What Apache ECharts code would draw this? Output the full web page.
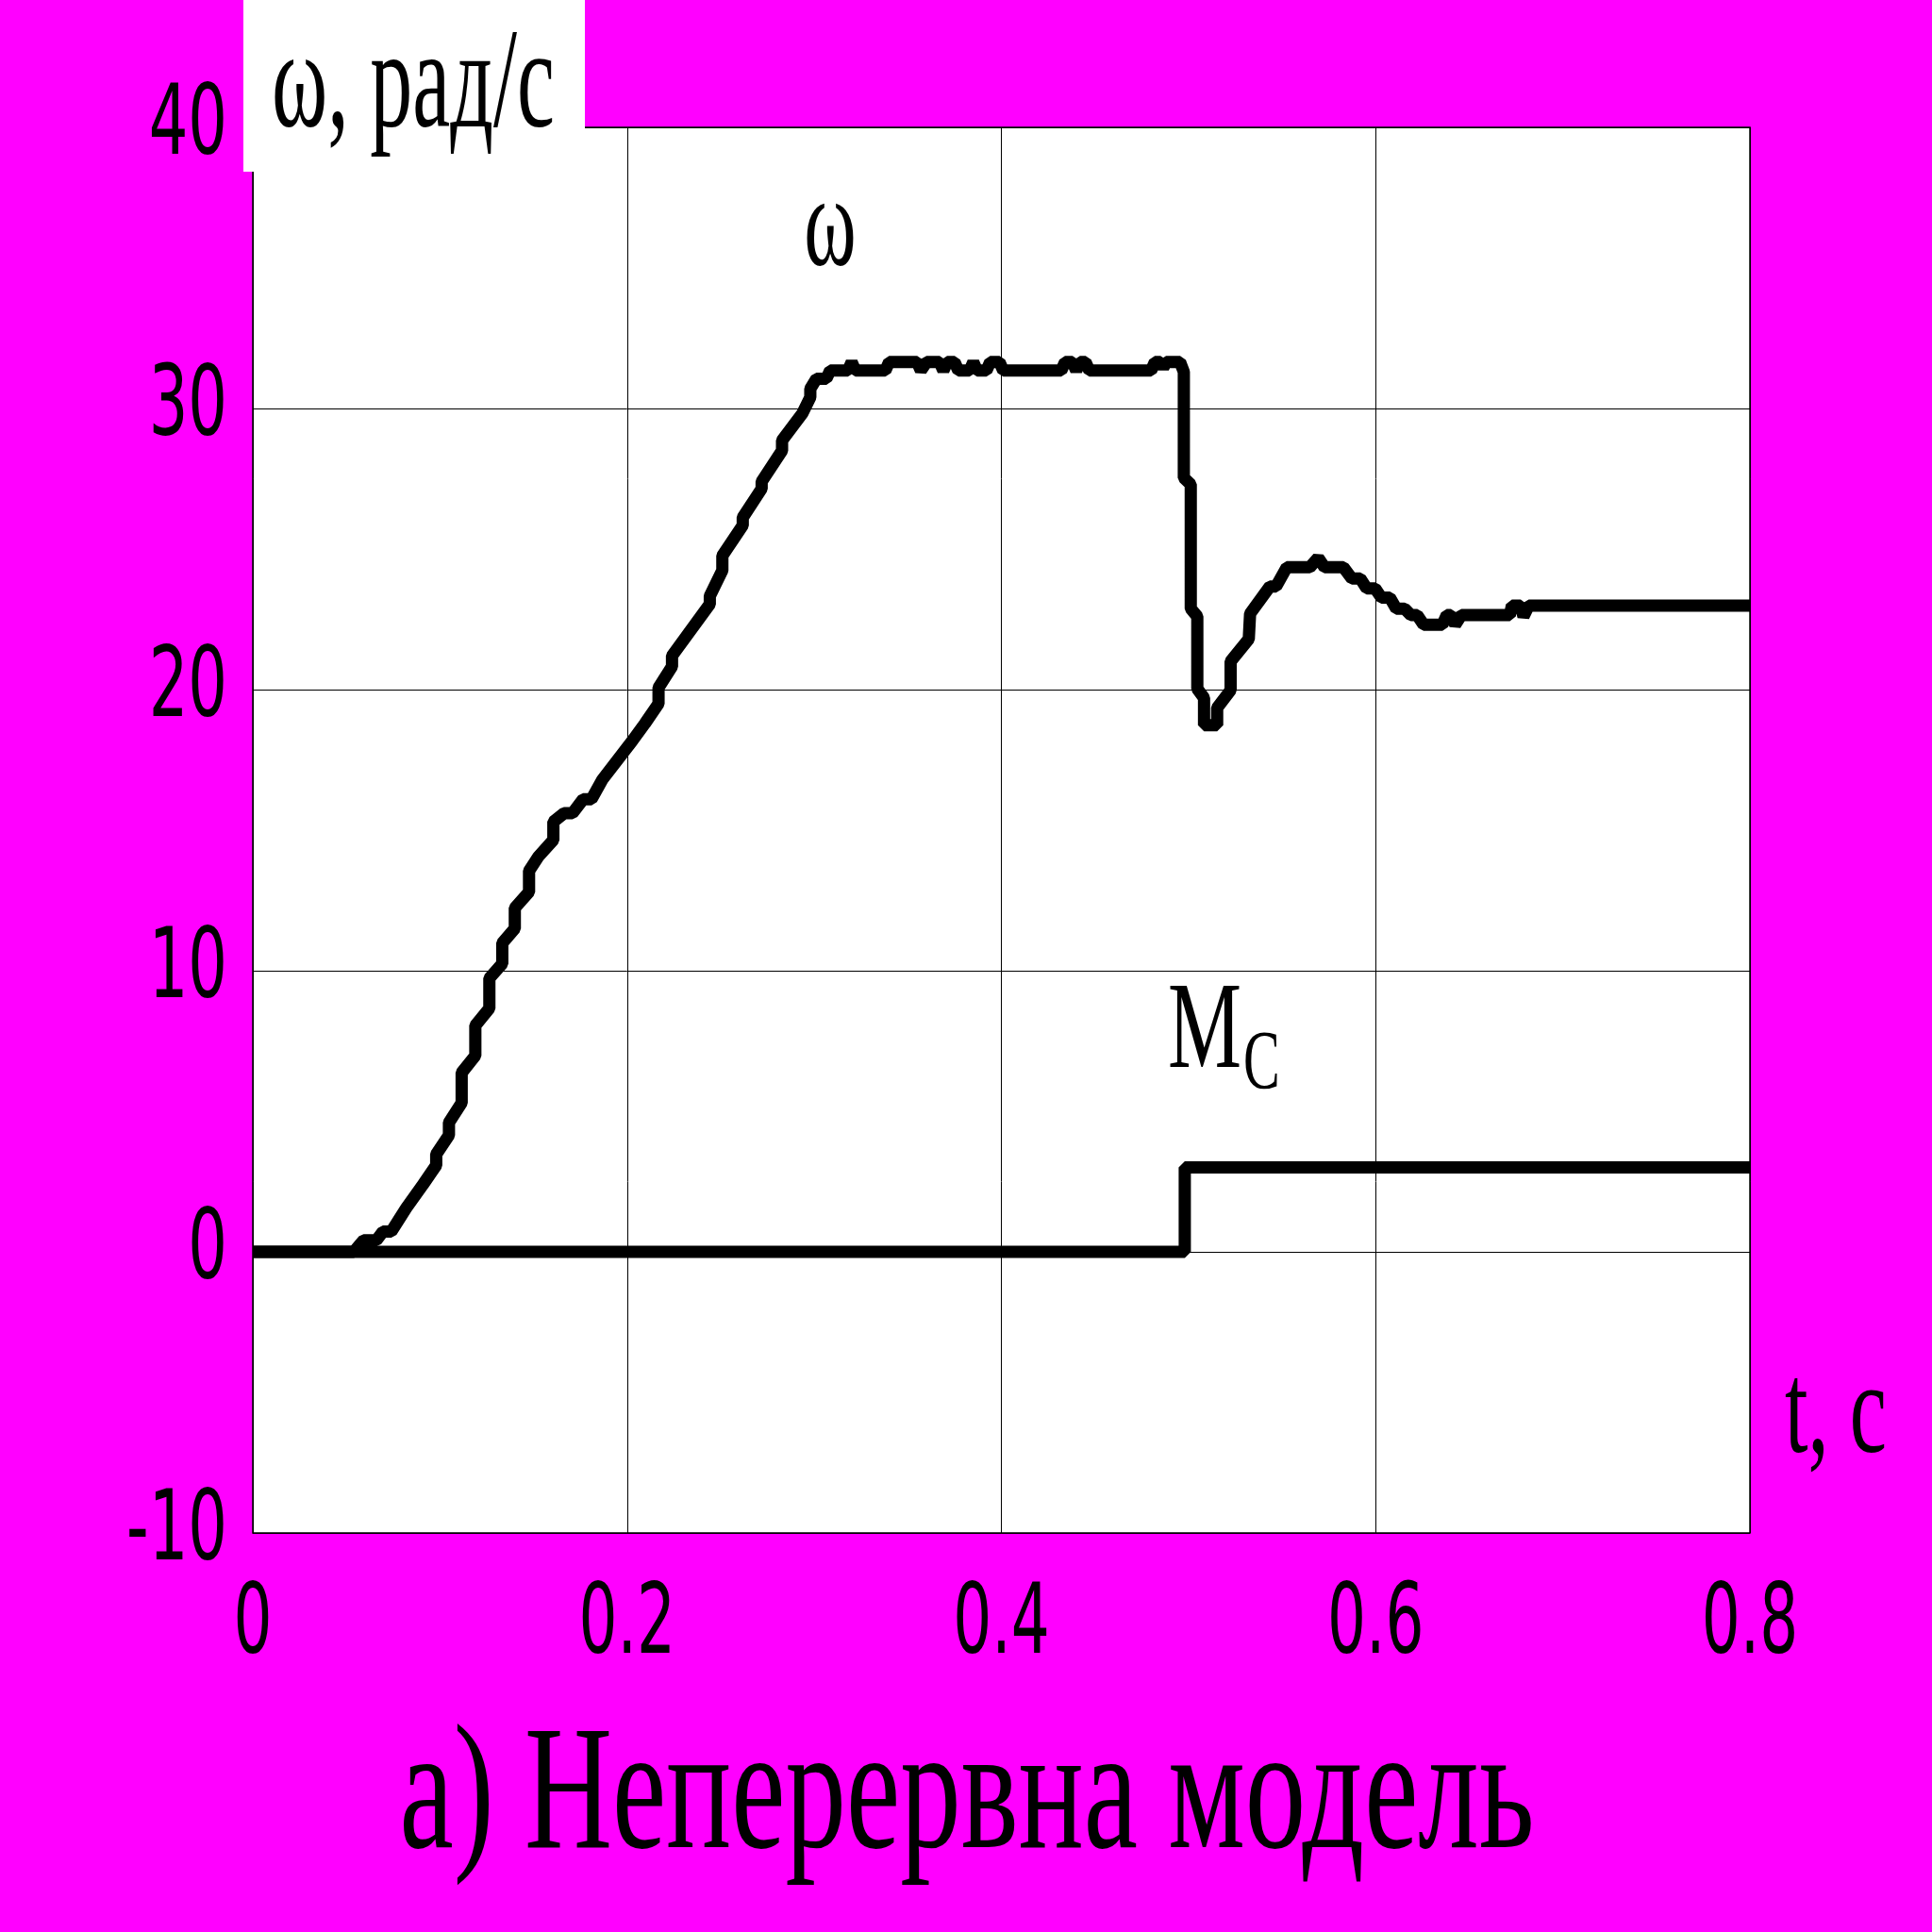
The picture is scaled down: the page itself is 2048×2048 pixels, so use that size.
<!DOCTYPE html>
<html>
<head>
<meta charset="utf-8">
<script src="https://cdn.jsdelivr.net/npm/echarts@6/dist/echarts.min.js"></script>
<style>
html,body{margin:0;padding:0;background:#ff00ff;}
#c{width:2048px;height:2048px;}
</style>
</head>
<body>
<div id="c"></div>
<script>
// ---- data ----
const xTicks = [0, 0.2, 0.4, 0.6, 0.8];
const yTicks = [-10, 0, 10, 20, 30, 40];

// omega(t): acceleration part
const omegaRise = [
  [0, 0], [0.054, 0], [0.0592, 0.41], [0.066, 0.41], [0.0695, 0.72], [0.074, 0.72],
  [0.082, 1.56], [0.091, 2.4], [0.098, 3.08], [0.098, 3.47], [0.1048, 4.15], [0.1048, 4.6],
  [0.1116, 5.3], [0.1116, 6.37], [0.1189, 6.98], [0.1189, 8.05], [0.1264, 8.66], [0.1264, 9.73],
  [0.1333, 10.25], [0.1333, 10.98], [0.140, 11.5], [0.140, 12.23], [0.1476, 12.8], [0.1476, 13.55],
  [0.1526, 14.06], [0.1606, 14.65], [0.1606, 15.3], [0.1663, 15.6], [0.1708, 15.6], [0.1765, 16.1],
  [0.181, 16.1], [0.1868, 16.8], [0.2027, 18.17], [0.2096, 18.8], [0.2168, 19.5], [0.2168, 20.07],
  [0.224, 20.82], [0.224, 21.2], [0.2442, 23.04], [0.2442, 23.33], [0.2509, 24.24], [0.2509, 24.76],
  [0.2618, 25.84], [0.2618, 26.12], [0.2719, 27.15], [0.2719, 27.4], [0.2828, 28.5], [0.2828, 28.86],
  [0.2937, 29.83], [0.2979, 30.4], [0.2979, 30.7], [0.3012, 31.06], [0.3065, 31.06], [0.3085, 31.35]
];
// omega(t): steady part before load step
const omegaPlateau = [
  [0.318, 31.35], [0.320, 31.65], [0.322, 31.35], [0.338, 31.35], [0.340, 31.65], [0.355, 31.65],
  [0.357, 31.35], [0.360, 31.65], [0.367, 31.65], [0.369, 31.35], [0.371, 31.65], [0.375, 31.65],
  [0.377, 31.35], [0.383, 31.35], [0.385, 31.65], [0.387, 31.35], [0.392, 31.35], [0.394, 31.65],
  [0.399, 31.65], [0.401, 31.35], [0.432, 31.35], [0.434, 31.65], [0.438, 31.65], [0.440, 31.35],
  [0.442, 31.65], [0.445, 31.65], [0.447, 31.35], [0.480, 31.35], [0.482, 31.65], [0.485, 31.65],
  [0.4865, 31.45], [0.488, 31.65], [0.4955, 31.65], [0.4975, 31.3]
];
// omega(t): transient after load step
const omegaTransient = [
  [0.4975, 27.53], [0.5012, 27.3], [0.5012, 22.88], [0.5047, 22.6], [0.5047, 20.03], [0.5083, 19.7],
  [0.5083, 18.73], [0.5153, 18.73], [0.5153, 19.35], [0.5225, 19.98], [0.5225, 21.0], [0.5322, 21.8],
  [0.5329, 22.7], [0.5435, 23.67], [0.5468, 23.67], [0.5525, 24.35], [0.5648, 24.35], [0.5693, 24.69],
  [0.5727, 24.35], [0.5828, 24.35], [0.5873, 23.95], [0.5918, 23.95], [0.5952, 23.6], [0.5997, 23.6],
  [0.6031, 23.27], [0.6076, 23.27], [0.6110, 22.88], [0.6155, 22.88], [0.6188, 22.65], [0.6222, 22.65],
  [0.6256, 22.31], [0.6357, 22.31], [0.6380, 22.65], [0.6402, 22.65], [0.6425, 22.31], [0.6458, 22.65],
  [0.6717, 22.65], [0.6728, 22.99], [0.6775, 22.99], [0.6790, 22.6], [0.6818, 22.99], [0.8, 22.99]
];
// load torque Mc(t)
const mcSteps = [[0, 0], [0.498, 0], [0.498, 3], [0.8, 3]];

const yAxisTitle = 'ω, рад/с';
const xAxisTitle = 't, c';
const chartTitle = 'а) Неперервна модель';
const omegaLabel = 'ω';
const mcLabel = 'M';
const mcSubLabel = 'C';

// ---- chart ----
const omegaData = omegaRise.concat(omegaPlateau, omegaTransient);
const chart = echarts.init(document.getElementById('c'), null, {renderer: 'canvas', width: 2048, height: 2048});

const lineStyleCommon = {color: '#000', width: 13, join: 'bevel', cap: 'butt'};

chart.setOption({
  animation: false,
  backgroundColor: '#ff00ff',
  grid: {
    left: 268, top: 135, width: 1587, height: 1490,
    show: true, backgroundColor: '#ffffff', borderColor: '#000', borderWidth: 1.5
  },
  xAxis: {
    type: 'value', min: 0, max: 0.8, interval: 0.2,
    axisLine: {show: false}, axisTick: {show: false}, axisLabel: {show: false},
    splitLine: {show: true, lineStyle: {color: '#000', width: 1}}
  },
  yAxis: {
    type: 'value', min: -10, max: 40, interval: 10,
    axisLine: {show: false}, axisTick: {show: false}, axisLabel: {show: false},
    splitLine: {show: true, lineStyle: {color: '#000', width: 1}}
  },
  series: [
    {type: 'line', name: 'Mc', data: mcSteps, symbol: 'none', showSymbol: false,
     lineStyle: lineStyleCommon, z: 3, clip: true},
    {type: 'line', name: 'omega', data: omegaData, symbol: 'none', showSymbol: false,
     lineStyle: lineStyleCommon, z: 4, clip: true}
  ]
});

function txt(text, x, y, size, family, scaleX, align, z) {
  return {
    type: 'text', x: x, y: y, scaleX: scaleX, scaleY: 1, z: z || 60,
    style: {
      text: text, fill: '#000', fontSize: size, fontFamily: family,
      textAlign: align, align: align, textVerticalAlign: 'middle', verticalAlign: 'middle'
    }
  };
}

const SANS = 'DejaVu Sans';
const SERIF = 'Liberation Serif';
const els = [];

// tick labels, positioned through the axes
yTicks.forEach(function (v) {
  const p = chart.convertToPixel({gridIndex: 0}, [0, v]);
  els.push(txt(String(v), 241, p[1] + 1, 104, SANS, 0.63, 'right'));
});
xTicks.forEach(function (v) {
  const p = chart.convertToPixel({gridIndex: 0}, [v, 0]);
  els.push(txt(String(v), p[0], 1725, 104, SANS, 0.62, 'center'));
});

// y-axis title in white box
els.push({type: 'rect', shape: {x: 258, y: 0, width: 362, height: 182}, style: {fill: '#ffffff'}, z: 50});
els.push(txt(yAxisTitle, 288, 95, 150, SERIF, 0.6, 'left', 61));

// x-axis title
els.push(txt(xAxisTitle, 1892, 1503, 138, SERIF, 0.64, 'left'));

// curve annotations
els.push(txt(omegaLabel, 880, 245, 138, SERIF, 0.61, 'center'));
els.push(txt(mcLabel, 1238, 1097, 131, SERIF, 0.67, 'left'));
els.push(txt(mcSubLabel, 1318, 1130, 88, SERIF, 0.66, 'left'));

// caption
els.push(txt(chartTitle, 1025, 1909, 188, SERIF, 0.686, 'center'));

chart.setOption({graphic: els});
</script>
</body>
</html>
